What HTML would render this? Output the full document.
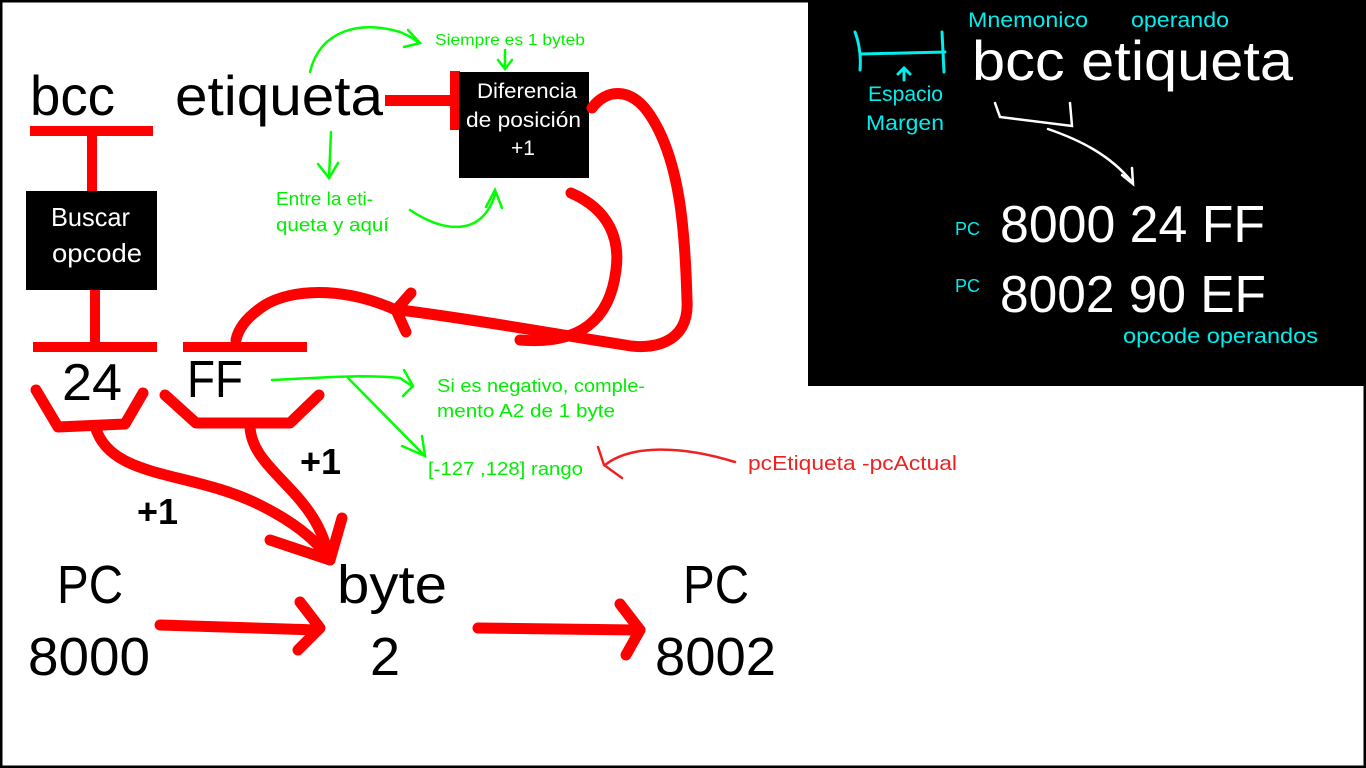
<!DOCTYPE html>
<html><head><meta charset="utf-8"><style>
html,body{margin:0;padding:0;background:#fff;}
svg{display:block;font-family:"Liberation Sans",sans-serif;}
</style></head><body>
<svg width="1366" height="768" viewBox="0 0 1366 768" xmlns="http://www.w3.org/2000/svg">
<rect x="1" y="1" width="1364" height="766" fill="#fff" stroke="#000" stroke-width="3"/>
<rect x="808" y="0" width="558" height="386" fill="#000"/>

<g fill="#000" font-size="56" lengthAdjust="spacingAndGlyphs">
<text x="30" y="115" textLength="85" lengthAdjust="spacingAndGlyphs">bcc</text>
<text x="175" y="115" textLength="208" lengthAdjust="spacingAndGlyphs">etiqueta</text>
<text x="62" y="400" font-size="52" textLength="60" lengthAdjust="spacingAndGlyphs">24</text>
<text x="187" y="397" font-size="52" textLength="56" lengthAdjust="spacingAndGlyphs">FF</text>
<text x="57" y="603" font-size="54" textLength="66" lengthAdjust="spacingAndGlyphs">PC</text>
<text x="28" y="675" font-size="54" textLength="122" lengthAdjust="spacingAndGlyphs">8000</text>
<text x="337" y="603" font-size="54" textLength="110" lengthAdjust="spacingAndGlyphs">byte</text>
<text x="370" y="675" font-size="54">2</text>
<text x="683" y="603" font-size="54" textLength="66" lengthAdjust="spacingAndGlyphs">PC</text>
<text x="655" y="675" font-size="54" textLength="121" lengthAdjust="spacingAndGlyphs">8002</text>
<text x="300" y="474" font-size="36" font-weight="bold">+1</text>
<text x="137" y="524" font-size="36" font-weight="bold">+1</text>
</g>

<g fill="#f00">
<rect x="30" y="126" width="123" height="10"/>
<rect x="87" y="136" width="10" height="56"/>
<rect x="90" y="290" width="10" height="54"/>
<rect x="33" y="342" width="124" height="10"/>
<rect x="183" y="342" width="124" height="10"/>
<rect x="385" y="95" width="70" height="11"/>
<rect x="450" y="71" width="10" height="59"/>
</g>
<rect x="26" y="191" width="131" height="99" fill="#000"/>
<rect x="459" y="72" width="130" height="106" fill="#000"/>
<g fill="#fff" font-size="26">
<text x="51" y="226" textLength="79" lengthAdjust="spacingAndGlyphs">Buscar</text>
<text x="52" y="262" textLength="90" lengthAdjust="spacingAndGlyphs">opcode</text>
</g>
<g fill="#fff" font-size="21">
<text x="477" y="98" textLength="100" lengthAdjust="spacingAndGlyphs">Diferencia</text>
<text x="466" y="127" textLength="115" lengthAdjust="spacingAndGlyphs">de posición</text>
<text x="511" y="155">+1</text>
</g>

<g fill="none" stroke="#f00" stroke-width="11" stroke-linecap="round" stroke-linejoin="round">
<path d="M592,108 C605,90 630,85 650,115 C680,160 685,230 687,300 C690,345 650,350 625,345 C560,335 480,320 400,310"/>
<path d="M571,193 C610,210 620,240 616,270 C610,320 580,345 520,340"/>
<path d="M411,293 L396,310 L406,332"/>
<path d="M396,310 C340,285 290,290 265,305 C245,318 238,330 236,340"/>
<path d="M36,390 L58,427 L125,424 L143,393"/>
<path d="M165,395 L196,423 L290,423 L319,395"/>
<path d="M95,426 C110,480 190,470 260,505 C300,525 320,545 330,560"/>
<path d="M250,425 C250,470 315,490 328,555"/>
<path d="M270,540 L330,560 L342,518"/>
<path d="M160,625 L318,630"/>
<path d="M300,602 L320,628 L298,650"/>
<path d="M478,628 L640,630"/>
<path d="M620,604 L640,630 L626,655"/>
</g>

<g fill="none" stroke="#0f0" stroke-width="2.5" stroke-linecap="round">
<path d="M310,72 C320,30 360,20 400,32 C410,36 415,40 418,42"/>
<path d="M408,30 L420,43 L404,47"/>
<path d="M505,50 L505,68 M498,60 L505,69 L512,60"/>
<path d="M331,132 L329,178 M318,164 L329,178 L338,163"/>
<path d="M410,210 C440,230 480,240 495,195 M486,207 L495,190 L502,208"/>
<path d="M272,380 C320,378 360,374 400,378 L412,386 M404,370 L413,386 L403,396"/>
<path d="M348,378 L424,455 M402,446 L425,456 L422,436"/>
</g>
<g fill="#0e0" font-size="18">
<text x="435" y="45" font-size="16" textLength="150" lengthAdjust="spacingAndGlyphs">Siempre es 1 byteb</text>
<text x="276" y="205" textLength="97" lengthAdjust="spacingAndGlyphs">Entre la eti-</text>
<text x="276" y="231" textLength="113" lengthAdjust="spacingAndGlyphs">queta y aquí</text>
<text x="437" y="392" textLength="208" lengthAdjust="spacingAndGlyphs">Si es negativo, comple-</text>
<text x="437" y="417" textLength="178" lengthAdjust="spacingAndGlyphs">mento A2 de 1 byte</text>
<text x="428" y="475" textLength="155" lengthAdjust="spacingAndGlyphs">[-127 ,128] rango</text>
</g>
<path d="M735,462 C680,445 630,445 605,465 M598,447 L604,465 L622,478" fill="none" stroke="#e22" stroke-width="2.5" stroke-linecap="round"/>
<text x="748" y="470" fill="#e22" font-size="20" textLength="209" lengthAdjust="spacingAndGlyphs">pcEtiqueta -pcActual</text>

<g fill="#0ee" font-size="21">
<text x="968" y="27" textLength="120" lengthAdjust="spacingAndGlyphs">Mnemonico</text>
<text x="1131" y="27" textLength="98" lengthAdjust="spacingAndGlyphs">operando</text>
<text x="868" y="101" textLength="75" lengthAdjust="spacingAndGlyphs">Espacio</text>
<text x="866" y="130" textLength="78" lengthAdjust="spacingAndGlyphs">Margen</text>
<text x="955" y="235" font-size="18">PC</text>
<text x="955" y="292" font-size="18">PC</text>
<text x="1123" y="343" textLength="195" lengthAdjust="spacingAndGlyphs">opcode  operandos</text>
</g>
<g fill="none" stroke="#0ee" stroke-width="3" stroke-linecap="round">
<path d="M855,32 C860,45 861,60 860,70"/>
<path d="M861,54 L945,52"/>
<path d="M942,32 L944,72"/>
<path d="M904,80 L904,70 M898,74 L904,68 L910,74"/>
</g>
<g fill="#fff" font-size="56">
<text x="972" y="80" textLength="321" lengthAdjust="spacingAndGlyphs">bcc  etiqueta</text>
<text x="1000" y="242" font-size="52" textLength="265" lengthAdjust="spacingAndGlyphs">8000 24 FF</text>
<text x="1000" y="312" font-size="52" textLength="266" lengthAdjust="spacingAndGlyphs">8002 90 EF</text>
</g>
<g fill="none" stroke="#fff" stroke-width="2.5" stroke-linecap="round">
<path d="M995,103 L1000,117 L1072,126 L1070,103"/>
<path d="M1048,129 C1080,140 1110,155 1132,182 M1122,175 L1133,184 L1132,168"/>
</g>
</svg>
</body></html>
